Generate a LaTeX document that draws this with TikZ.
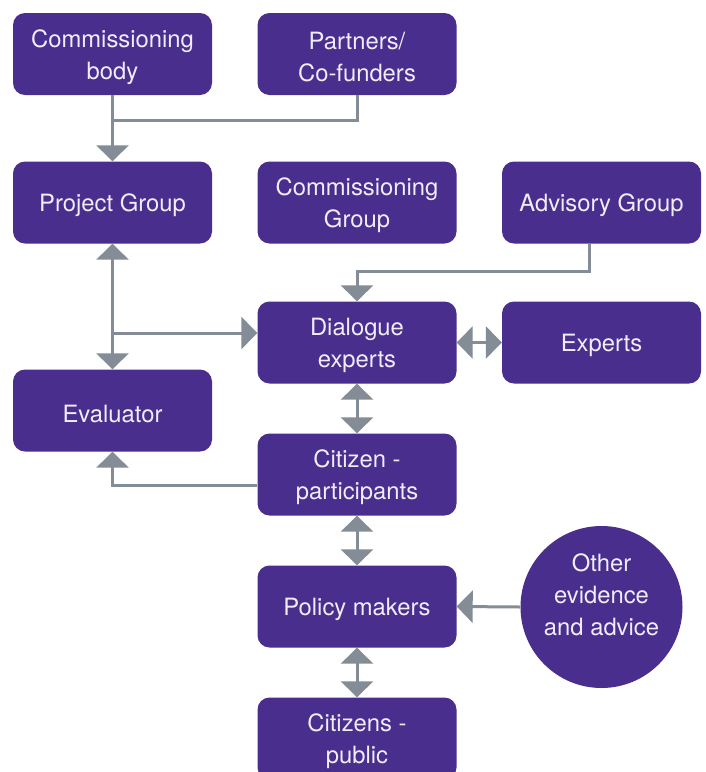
\documentclass[tikz,border=0pt]{standalone}
\usepackage{fontspec}
\setmainfont{TeX Gyre Heros}
\usetikzlibrary{arrows.meta}
\definecolor{boxpurple}{RGB}{74,46,142}
\definecolor{linegrey}{RGB}{132,141,149}
\definecolor{txt}{RGB}{240,236,248}
\begin{document}
\begin{tikzpicture}[x=1pt,y=-1pt,
  box/.style={fill=boxpurple,rounded corners=12pt,minimum width=199pt,minimum height=82pt,
    text=txt,align=center,inner sep=0pt,font=\fontsize{23.8}{32}\selectfont,
    execute at begin node={\rule{0pt}{24pt}}},
  twobox/.style={box,execute at begin node={\rule{0pt}{56pt}}},
  circ/.style={circle,fill=boxpurple,minimum size=162pt,inner sep=0pt},
  ctext/.style={text=txt,align=center,inner sep=0pt,font=\fontsize{23.8}{32}\selectfont},
  conn/.style={draw=linegrey,line width=3pt},
  tip/.style={-{Triangle[width=32pt,length=16pt]},conn},
  dtip/.style={{Triangle[width=32pt,length=16pt]}-{Triangle[width=32pt,length=16pt]},conn}]
\useasboundingbox (0,0) rectangle (706,772);
\fill[white] (0,0) rectangle (706,772);
\node[twobox] (cb) at (112.5,54) {Commissioning\\body};
\node[twobox] (pa) at (357,54) {Partners/\\Co-funders};
\node[box] (pg) at (112.5,202.5) {Project Group};
\node[twobox] (cg) at (357,202.5) {Commissioning\\Group};
\node[box] (ag) at (601.5,202.5) {Advisory Group};
\node[twobox] (de) at (357,342.5) {Dialogue\\experts};
\node[box] (ex) at (601.5,342.5) {Experts};
\node[box] (ev) at (112.5,410.5) {Evaluator};
\node[twobox] (cp) at (357,474.5) {Citizen -\\participants};
\node[box] (pm) at (357,606.5) {Policy makers};
\node[twobox] (cpub) at (357,738.5) {Citizens -\\public};
\node[circ] (oe) at (601.5,607) {};
\node[ctext] (oet) at (601.5,595) {Other\\evidence\\and advice};
% connectors
\coordinate (j1) at (112.5,120);
\draw[tip] (cb.south) -- (pg.north);
\draw[conn] (pa.south) |- (j1);
\draw[dtip] (pg.south) -- (ev.north);
\coordinate (j2) at (112.5,333);
\draw[tip] (j2) -- (j2 -| de.west);
\coordinate (a1) at (589,243.5);
\coordinate (a2) at (357,271.5);
\draw[tip] (a1) |- (a2) -- (de.north);
\draw[dtip] (de.east) -- (ex.west);
\draw[dtip] (de.south) -- (cp.north);
\coordinate (e1) at (cp.west |- 0,485);
\draw[tip] (e1) -| (ev.south);
\draw[dtip] (cp.south) -- (pm.north);
\draw[tip] (oe.west) -- (pm.east);
\draw[dtip] (pm.south) -- (cpub.north);
\end{tikzpicture}
\end{document}
